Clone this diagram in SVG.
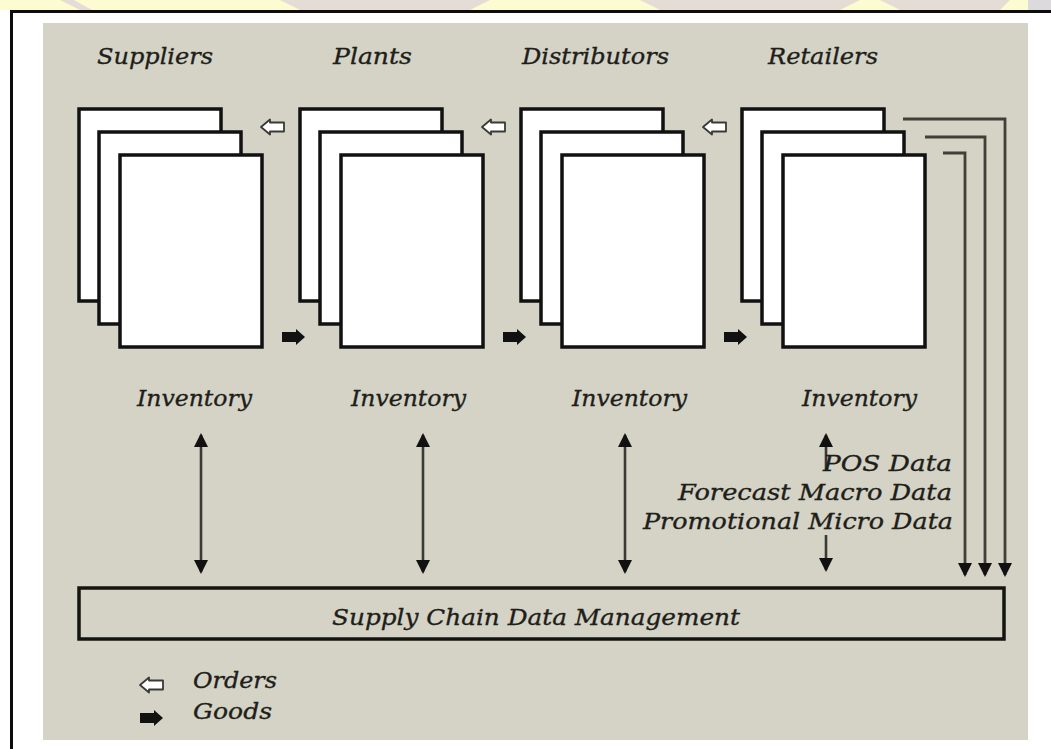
<svg xmlns="http://www.w3.org/2000/svg" width="1051" height="749" viewBox="0 0 1051 749">
  <style>
    .lbl { font-family: "DejaVu Serif", "Liberation Serif", serif; font-style: italic; font-size: 23px; fill: #1e1e1a; stroke: #1e1e1a; stroke-width: 0.35; }
    .card { fill: #ffffff; stroke: #111111; stroke-width: 3.5; }
    .link { fill: none; stroke: #3a3a34; stroke-width: 2.6; }
    .feed { fill: none; stroke: #403f38; stroke-width: 2.8; }
  </style>
  <defs>
    <marker id="tip" markerUnits="userSpaceOnUse" viewBox="0 0 14 14" markerWidth="14" markerHeight="14" refX="12" refY="7" orient="auto-start-reverse">
      <path d="M0,0 L14,7 L0,14 Z" fill="#111111"/>
    </marker>
    <path id="order" d="M0,0 L9,-7.5 L9,-4.5 L23,-4.5 L23,4.5 L9,4.5 L9,7.5 Z" fill="#ffffff" stroke="#3a3a34" stroke-width="1.8" stroke-linejoin="round"/>
    <path id="good" d="M23,0 L14,-8 L14,-5 L0,-5 L0,5 L14,5 L14,8 Z" fill="#111111"/>
    <g id="stack">
      <rect class="card" x="0" y="0" width="142" height="192"/>
      <rect class="card" x="20" y="23" width="142" height="192"/>
      <rect class="card" x="41" y="46" width="142" height="192"/>
    </g>
  </defs>

  <!-- page background -->
  <rect x="0" y="0" width="1051" height="749" fill="#ffffff"/>
  <rect x="0" y="0" width="1051" height="10" fill="#fdfbd2"/>
  <path d="M60,0 L80,10 L92,10 L74,0 Z M280,0 L300,10 L470,10 L490,0 Z M640,0 L660,10 L840,10 L860,0 Z M880,0 L900,10 L1000,10 L1010,0 Z" fill="#e6dcd6"/>
  <rect x="1028" y="0" width="23" height="10" fill="#dcdadc"/>

  <!-- frame and panel -->
  <path d="M11.5,749 V11.5 H1051" fill="none" stroke="#0c0c0c" stroke-width="3"/>
  <rect x="43" y="23" width="985" height="717" fill="#d4d3c5"/>

  <!-- stage titles -->
  <g id="titles">
    <text class="lbl" x="97" y="64" textLength="116" lengthAdjust="spacingAndGlyphs">Suppliers</text>
    <text class="lbl" x="333" y="64" textLength="79" lengthAdjust="spacingAndGlyphs">Plants</text>
    <text class="lbl" x="522" y="64" textLength="147" lengthAdjust="spacingAndGlyphs">Distributors</text>
    <text class="lbl" x="768" y="64" textLength="110" lengthAdjust="spacingAndGlyphs">Retailers</text>
  </g>

  <g id="suppliers">
    <use href="#stack" x="79" y="109"/>
    <text class="lbl" x="137" y="406" textLength="115" lengthAdjust="spacingAndGlyphs">Inventory</text>
  </g>
  <g id="plants">
    <use href="#stack" x="300" y="109"/>
    <text class="lbl" x="351" y="406" textLength="115" lengthAdjust="spacingAndGlyphs">Inventory</text>
  </g>
  <g id="distributors">
    <use href="#stack" x="521" y="109"/>
    <text class="lbl" x="572" y="406" textLength="115" lengthAdjust="spacingAndGlyphs">Inventory</text>
  </g>
  <g id="retailers">
    <use href="#stack" x="742" y="109"/>
    <text class="lbl" x="802" y="406" textLength="115" lengthAdjust="spacingAndGlyphs">Inventory</text>
  </g>

  <g id="data-management">
    <rect x="79" y="588" width="925" height="51" fill="#d4d3c5" stroke="#141410" stroke-width="3.5"/>
    <text class="lbl" x="332" y="625" textLength="408" lengthAdjust="spacingAndGlyphs">Supply Chain Data Management</text>
  </g>

  <g id="connectors">
    <!-- orders flowing upstream, goods flowing downstream -->
    <use href="#order" x="261" y="127"/>
    <use href="#order" x="482" y="127"/>
    <use href="#order" x="703" y="127"/>
    <use href="#good" x="282" y="337"/>
    <use href="#good" x="503" y="337"/>
    <use href="#good" x="724" y="337"/>

    <!-- inventory exchange with data management -->
    <line class="link" x1="201" y1="435" x2="201" y2="572" marker-start="url(#tip)" marker-end="url(#tip)"/>
    <line class="link" x1="423" y1="435" x2="423" y2="572" marker-start="url(#tip)" marker-end="url(#tip)"/>
    <line class="link" x1="625" y1="435" x2="625" y2="572" marker-start="url(#tip)" marker-end="url(#tip)"/>
    <line class="link" x1="826" y1="470" x2="826" y2="435" marker-end="url(#tip)"/>
    <line class="link" x1="826" y1="535" x2="826" y2="570" marker-end="url(#tip)"/>

    <!-- retailer feeds -->
    <path class="feed" d="M903,119 H1005 V575" marker-end="url(#tip)"/>
    <path class="feed" d="M925,137 H985 V575" marker-end="url(#tip)"/>
    <path class="feed" d="M943,153 H965 V575" marker-end="url(#tip)"/>
  </g>

  <g id="data-labels">
    <text class="lbl" x="823" y="471" textLength="129" lengthAdjust="spacingAndGlyphs">POS Data</text>
    <text class="lbl" x="678" y="500" textLength="274" lengthAdjust="spacingAndGlyphs">Forecast Macro Data</text>
    <text class="lbl" x="643" y="529" textLength="310" lengthAdjust="spacingAndGlyphs">Promotional Micro Data</text>
  </g>

  <g id="legend">
    <use href="#order" x="140" y="685"/>
    <use href="#good" x="140" y="718"/>
    <text class="lbl" x="193" y="688" textLength="84" lengthAdjust="spacingAndGlyphs">Orders</text>
    <text class="lbl" x="193" y="719" textLength="79" lengthAdjust="spacingAndGlyphs">Goods</text>
  </g>
</svg>
